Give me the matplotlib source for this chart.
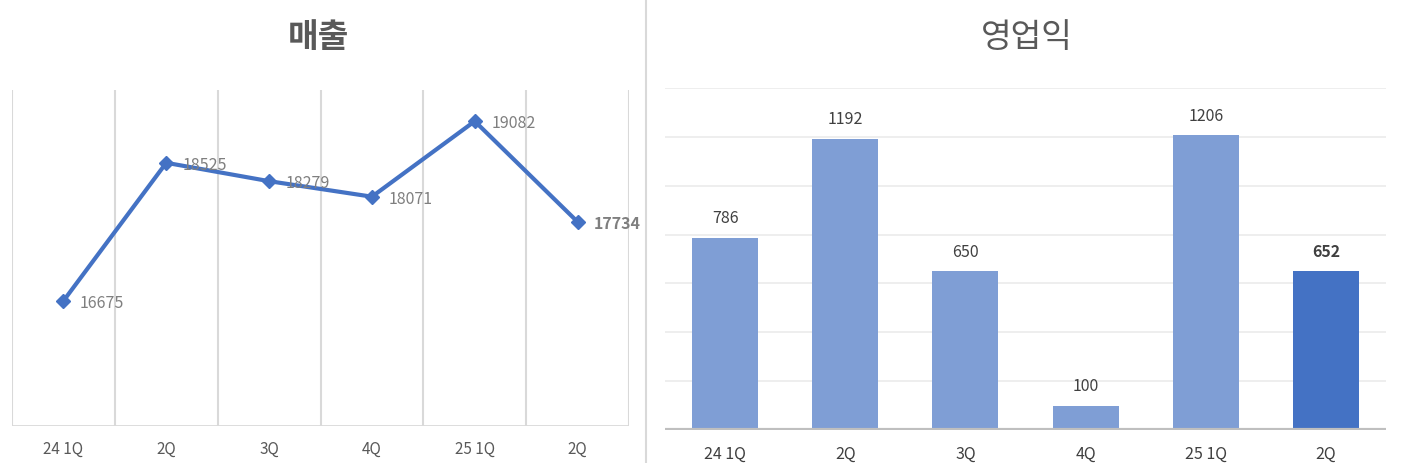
import numpy as np
import matplotlib.pyplot as plt
from matplotlib.lines import Line2D

plt.rcParams['font.family'] = ['Noto Sans CJK KR', 'DejaVu Sans']

quarters = ['24 1Q', '2Q', '3Q', '4Q', '25 1Q', '2Q']
sales = [16675, 18525, 18279, 18071, 19082, 17734]
op_profit = [786, 1192, 650, 100, 1206, 652]

blue = '#4472C4'
light_blue = '#7F9ED5'
label_gray = '#7F7F7F'
dark_gray = '#404040'

fig = plt.figure(figsize=(14.04, 4.64), dpi=100)
W, H = 1404, 464

# left panel: sales line
ax1 = fig.add_axes([12 / W, 1 - 427 / H, 617 / W, 336 / H])
x = np.arange(len(quarters))
ax1.plot(x, sales, color=blue, lw=3, marker='D', ms=7, zorder=3)
ax1.set_xlim(-0.5, len(quarters) - 0.5)
ax1.set_ylim(15000, 19500)
for b in np.arange(-0.5, len(quarters), 1):
    ax1.axvline(b, color='#D9D9D9', lw=1.5, zorder=1)
for i, v in enumerate(sales):
    last = i == len(sales) - 1
    ax1.annotate(str(v), (i, v), xytext=(12, -1), textcoords='offset points',
                 ha='left', va='center', fontsize=11.5,
                 color=label_gray, fontweight='bold' if last else 'normal',
                 zorder=4)
for s in ax1.spines.values():
    s.set_visible(False)
ax1.axhline(15000, color='#D9D9D9', lw=2, zorder=1)
ax1.set_yticks([])
ax1.set_xticks(x)
ax1.set_xticklabels(quarters, fontsize=11, color='#595959')
ax1.tick_params(axis='x', length=0, pad=10)
fig.text(318 / W, 1 - 38 / H, '매출', ha='center', va='center',
         fontsize=24, fontweight='bold', color='#595959')

# divider
fig.add_artist(Line2D([646 / W, 646 / W], [0, 1], color='#D9D9D9', lw=1.5))

# right panel: operating profit bars
ax2 = fig.add_axes([665 / W, 1 - 431 / H, 721 / W, 342 / H])
colors = [light_blue] * (len(op_profit) - 1) + [blue]
ax2.bar(x, op_profit, width=0.55, color=colors, zorder=2)
ax2.set_xlim(-0.5, len(quarters) - 0.5)
ax2.set_ylim(0, 1400)
ax2.set_yticks(np.arange(200, 1401, 200))
ax2.yaxis.grid(True, color='#EBEBEB', lw=1.2, zorder=0)
ax2.tick_params(axis='y', length=0, labelleft=False)
for s in ax2.spines.values():
    s.set_visible(False)
ax2.axhline(0, color='#BFBFBF', lw=3, zorder=3)
for i, v in enumerate(op_profit):
    last = i == len(op_profit) - 1
    ax2.annotate(str(v), (i, v), xytext=(0, 14.5), textcoords='offset points',
                 ha='center', va='center', fontsize=11.5, color=dark_gray,
                 fontweight='bold' if last else 'normal')
ax2.set_xticks(x)
ax2.set_xticklabels(quarters, fontsize=11.5, color=dark_gray)
ax2.tick_params(axis='x', length=0, pad=11)
fig.text(1027 / W, 1 - 38 / H, '영업익', ha='center', va='center',
         fontsize=24, color='#595959')

fig.savefig('out.png', dpi=100)
